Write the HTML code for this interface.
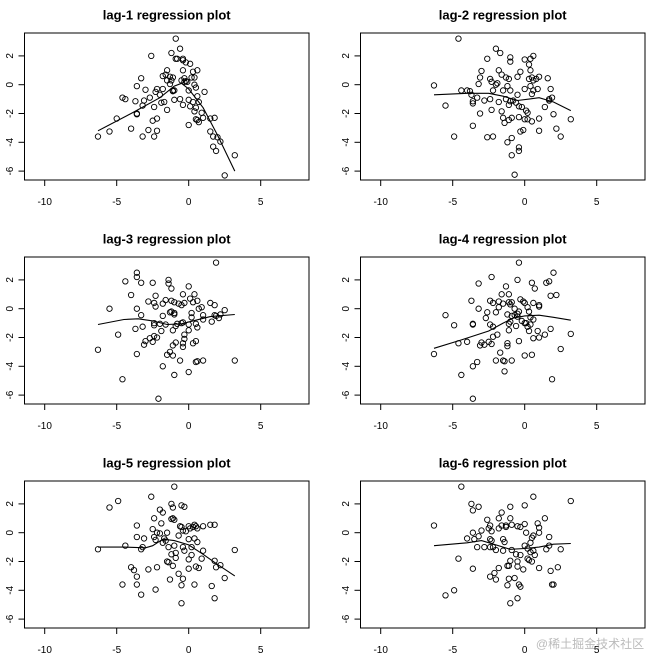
<!DOCTYPE html>
<html><head><meta charset="utf-8">
<style>
html,body{margin:0;padding:0;background:#fff;}
svg{display:block;font-family:"Liberation Sans",Arial,sans-serif;}
</style></head>
<body>
<svg id="chart" width="653" height="657" viewBox="0 0 653 657" xmlns="http://www.w3.org/2000/svg">
<text x="590" y="648" font-family="'Liberation Sans','Noto Sans CJK SC',sans-serif" font-size="12" fill="#bbb" text-anchor="middle">@稀土掘金技术社区</text>
</svg>
<script>
const panelTitles = ["lag-1 regression plot","lag-2 regression plot","lag-3 regression plot","lag-4 regression plot","lag-5 regression plot","lag-6 regression plot"];
const xTicks = [-10,-5,0,5];
const yTicks = [-6,-4,-2,0,2];
const lag1Points = [[-6.3,-3.6],[-5.5,-3.25],[-5,-2.35],[-4.6,-0.9],[-4.4,-1],[-4,-3.05],[-3.7,-1.15],[-3.6,-0.1],[-3.6,-2],[-3.6,-2.05],[-3.3,0.45],[-3.2,-1.45],[-3.2,-3.6],[-3.1,-1.1],[-3,-0.35],[-2.8,-3.15],[-2.7,-0.9],[-2.6,2],[-2.5,-2.5],[-2.4,-1.55],[-2.4,-3.6],[-2.3,-0.5],[-2.2,-0.3],[-2.2,-2.35],[-2.2,-3.2],[-2,-0.7],[-1.9,-1.25],[-1.8,-0.3],[-1.8,0.6],[-1.7,-1.2],[-1.6,0.7],[-1.5,0.3],[-1.5,-1.75],[-1.5,1],[-1.3,0.55],[-1.3,0.05],[-1.2,0.3],[-1.2,2.2],[-1.1,-0.4],[-1.1,-0.45],[-1.1,0.5],[-1,-1.05],[-1,-0.4],[-0.9,1.8],[-0.9,3.2],[-0.8,1.8],[-0.6,2.5],[-0.6,-1],[-0.5,0.3],[-0.4,1.8],[-0.4,1.7],[-0.4,-1.4],[-0.4,1],[-0.3,0.45],[-0.3,0.2],[-0.2,1.55],[-0.2,0.25],[-0.1,0.2],[0,-2.8],[0,-1.05],[0,-0.4],[0.1,1.45],[0.1,-1.5],[0.2,0.5],[0.3,0.9],[0.3,-1.2],[0.4,0.5],[0.4,0],[0.4,-1.85],[0.5,-0.2],[0.5,-1.6],[0.5,-2.4],[0.6,-2.45],[0.6,1],[0.6,-0.8],[0.7,-2.6],[0.7,-1.2],[0.9,-1.95],[1,-2.3],[1.1,-0.5],[1.5,-2.35],[1.5,-3.25],[1.7,-3.6],[1.7,-4.3],[1.8,-2.3],[1.9,-4.6],[2,-3.65],[2.2,-3.95],[2.5,-6.3],[3.2,-4.9]];
const lag1Line = [[-6.3,-3.2],[-4,-2],[-2,-0.9],[-1,-0.1],[-0.5,0.1],[0,-0.3],[1,-1.6],[2,-3.5],[3.2,-6]];
const lag2Points = [[-6.3,-0.05],[-5.5,-1.45],[-4.9,-3.6],[-4.6,3.2],[-4.4,-0.4],[-4,-0.4],[-3.8,-0.45],[-3.7,-0.7],[-3.6,-1.15],[-3.6,-1.3],[-3.6,-2.85],[-3.3,-0.9],[-3.2,0.05],[-3.1,-2],[-3.1,0.5],[-3,0.95],[-2.8,-1.1],[-2.6,-3.65],[-2.6,1.8],[-2.4,-1.0],[-2.4,0.4],[-2.3,0.2],[-2.3,-1.75],[-2.2,-3.6],[-2.2,-0.4],[-2,2.5],[-2,0],[-1.9,0.1],[-1.8,1],[-1.7,2.2],[-1.8,-1.2],[-1.6,0.7],[-1.6,-1.85],[-1.5,-2.3],[-1.5,-0.4],[-1.4,-2.65],[-1.3,0.5],[-1.3,-1.0],[-1.2,-0.1],[-1.2,-4],[-1.1,-1.4],[-1.1,0.4],[-1.1,-2.45],[-1,1.9],[-1,1.6],[-1,-0.4],[-1,-1.15],[-0.9,-2.3],[-0.9,-3.7],[-0.9,-4.9],[-0.8,-1.1],[-0.7,-6.25],[-0.6,-1.25],[-0.5,-0.7],[-0.5,0.55],[-0.4,-4.35],[-0.4,-4.6],[-0.4,-2.25],[-0.4,-1.5],[-0.3,0.9],[-0.3,-3.25],[-0.2,-1.55],[-0.1,-3.15],[0,-2.4],[0,1.75],[0,-0.3],[0.1,-1.8],[0.2,-2.4],[0.2,-1.95],[0.3,0.4],[0.3,1.4],[0.4,1],[0.4,1.8],[0.4,-0.1],[0.5,0.5],[0.5,-0.65],[0.5,-2.55],[0.6,-0.4],[0.6,0.3],[0.6,2],[0.8,0.4],[0.9,-0.3],[1,-2.35],[1,-3.2],[1,0.55],[1.4,-1.55],[1.6,0.45],[1.7,-1.1],[1.7,-1],[1.8,-0.3],[1.9,-0.9],[2,-2.05],[2.2,-3.05],[2.5,-3.6],[3.2,-2.4]];
const lag2Line = [[-6.3,-0.7],[-4,-0.6],[-2.5,-0.6],[-1.5,-0.8],[-0.5,-1.1],[0.3,-1.0],[1,-0.9],[2,-1.2],[3.2,-1.8]];
const lag3Points = [[-6.3,-2.85],[-5.5,0],[-4.9,-1.8],[-4.6,-4.9],[-4.4,1.9],[-4,0.95],[-3.7,-1.4],[-3.6,2.5],[-3.6,2.2],[-3.6,0],[-3.6,-3.15],[-3.3,1.8],[-3.3,-0.45],[-3.2,-1.25],[-3.1,-2.5],[-3,-2.25],[-2.8,0.5],[-2.7,-2.05],[-2.5,1.8],[-2.5,-2.3],[-2.4,-1],[-2.4,-1.9],[-2.4,-1.15],[-2.4,0.4],[-2.3,0.9],[-2.3,0.15],[-2.2,-2],[-2.1,-6.25],[-2,-1.05],[-1.9,-1.55],[-1.8,-0.5],[-1.8,0.35],[-1.8,-4],[-1.6,0.6],[-1.6,-1.1],[-1.5,-3.2],[-1.4,2],[-1.4,1.75],[-1.3,-0.25],[-1.3,-3],[-1.2,1.4],[-1.2,-0.2],[-1.2,0.55],[-1.1,-1.5],[-1.1,-2.55],[-1.1,-3.25],[-1,-0.3],[-1,-0.4],[-1,0.45],[-1,-4.6],[-0.9,-1.2],[-0.9,-2.35],[-0.8,-1.05],[-0.7,0.35],[-0.6,-3.6],[-0.5,-1],[-0.5,0.25],[-0.4,-0.95],[-0.4,1],[-0.4,-2.65],[-0.4,-2.4],[-0.3,-2.1],[-0.3,-1.8],[-0.3,0.4],[0,1.55],[0,-1.5],[0,-1.1],[0,-4.4],[0.1,0.7],[0.2,-0.6],[0.2,-0.3],[0.3,0.45],[0.3,-2.4],[0.4,1],[0.5,-2.25],[0.5,-1.05],[0.5,-3.7],[0.6,-3.65],[0.6,-1.3],[0.6,0.55],[0.7,0],[0.9,0.1],[1,-0.45],[1,-0.75],[1,-3.6],[1.5,0.4],[1.6,-0.9],[1.8,0.25],[1.8,-0.45],[1.9,-0.5],[1.9,3.2],[2.1,-0.65],[2.2,-0.4],[2.5,-0.1],[3.2,-3.6]];
const lag3Line = [[-6.3,-1.1],[-4.5,-0.75],[-3.5,-0.7],[-2.5,-0.85],[-1.5,-1.1],[-0.5,-1.05],[0.5,-0.8],[1.5,-0.55],[3.2,-0.4]];
const lag4Points = [[-6.3,-3.15],[-5.5,-0.45],[-4.9,-1.15],[-4.6,-2.4],[-4.4,-4.6],[-4,-2.3],[-3.7,0.55],[-3.6,-1.1],[-3.6,-1.05],[-3.6,-4],[-3.6,-6.25],[-3.2,1.75],[-3.2,0],[-3.1,-2.55],[-3.3,-3.7],[-3,-2.35],[-2.8,-2.5],[-2.7,-0.65],[-2.6,-0.25],[-2.5,-2.3],[-2.4,-1.1],[-2.4,0.55],[-2.3,2.2],[-2.3,-2.45],[-2.2,-1.95],[-2.2,0.4],[-2.2,-1.25],[-2,-0.25],[-2,-3.6],[-1.9,-1.8],[-1.8,0.5],[-1.8,0.1],[-1.7,-3.05],[-1.6,1],[-1.5,0.35],[-1.5,-3.6],[-1.4,-3.65],[-1.4,-4.35],[-1.3,1.55],[-1.2,-0.4],[-1.2,-2.4],[-1.2,-2.6],[-1.1,1],[-1.1,0.45],[-1.1,-1.05],[-1.1,-1.5],[-1,0.3],[-1,-0.9],[-0.9,0.45],[-0.9,-0.5],[-0.9,-3.6],[-0.7,0],[-0.7,-0.45],[-0.6,-1.2],[-0.5,2],[-0.5,-0.35],[-0.5,-0.55],[-0.4,3.2],[-0.4,-0.2],[-0.4,-2.25],[-0.3,0.65],[-0.2,-0.85],[-0.1,0.5],[0,0.4],[0,-1],[0,-3.25],[0.1,-1],[0.2,0.1],[0.2,-1.25],[0.3,-0.2],[0.3,-1.55],[0.4,-0.6],[0.4,-1.1],[0.5,1.8],[0.5,-3.2],[0.6,-0.75],[0.6,0.4],[0.6,-2.05],[0.7,1.4],[0.9,-1.55],[1,0.15],[1,0.25],[1,-2],[1.4,-1.8],[1.5,1.8],[1.7,1.9],[1.8,0.9],[1.8,-1.4],[1.9,-4.9],[2,2.5],[2.2,0.95],[2.5,-2.8],[3.2,-1.75]];
const lag4Line = [[-6.3,-2.75],[-4.5,-2.2],[-2.5,-1.55],[-1.5,-1.0],[-0.8,-0.65],[0,-0.5],[1,-0.45],[2,-0.6],[3.2,-0.8]];
const lag5Points = [[-6.3,-1.15],[-5.5,1.75],[-4.9,2.2],[-4.6,-3.6],[-4.4,-0.9],[-4,-2.4],[-3.8,-2.6],[-3.6,0.5],[-3.6,-0.3],[-3.6,-3.05],[-3.6,-3.6],[-3.3,-4.3],[-3.3,-1.15],[-3.2,-1],[-3.1,-0.4],[-2.8,-2.55],[-2.6,2.5],[-2.5,0.25],[-2.4,-0.3],[-2.4,1],[-2.3,-3.95],[-2.3,-0.5],[-2.2,-2.4],[-2.2,0],[-2,-0.05],[-2,1.6],[-1.9,0.65],[-1.8,1.4],[-1.8,-0.7],[-1.7,-0.4],[-1.6,-0.55],[-1.5,0],[-1.5,-2],[-1.4,-1],[-1.4,-2.05],[-1.3,-3.25],[-1.2,2],[-1.2,-1.5],[-1.2,0.95],[-1.1,1.75],[-1.1,-2.3],[-1.1,1],[-1,-0.9],[-1,0.9],[-1,3.2],[-0.9,-1.4],[-0.9,-1.75],[-0.7,-0.2],[-0.7,-2.85],[-0.6,0.45],[-0.5,0.4],[-0.5,1.9],[-0.5,-3.65],[-0.5,-4.9],[-0.4,-1],[-0.4,-3.2],[-0.4,0.15],[-0.3,1.8],[-0.3,-1.25],[-0.2,0.1],[0,0.45],[0,-0.45],[0,-1.85],[0,-2.5],[0.1,0.3],[0.2,-1],[0.2,-1.55],[0.3,0.4],[0.4,0.55],[0.4,-0.4],[0.4,-3.6],[0.5,-2.35],[0.5,0.45],[0.6,0.3],[0.6,-0.65],[0.7,-2.45],[0.9,-1.8],[1,0.45],[1,-1.25],[1.5,0.55],[1.6,-3.7],[1.8,0.55],[1.8,-4.55],[1.8,-1.95],[1.9,-2.4],[2.2,-2.25],[2.5,-3.15],[3.2,-1.2]];
const lag5Line = [[-6.3,-1.0],[-4.5,-1.0],[-3,-1.05],[-2.5,-0.9],[-1.8,-0.45],[-1,-0.55],[0,-0.85],[1,-1.5],[2,-2.2],[3.2,-3]];
const lag6Points = [[-6.3,0.5],[-5.5,-4.35],[-4.9,-4],[-4.6,-1.8],[-4.4,3.2],[-4,-0.4],[-3.7,2],[-3.6,1.55],[-3.6,0],[-3.6,-2.5],[-3.5,-0.45],[-3.3,-1],[-3.2,-0.25],[-3.2,1.8],[-3,0.15],[-2.8,-1],[-2.6,0.9],[-2.5,0.3],[-2.4,-0.45],[-2.4,0.5],[-2.4,-1],[-2.4,-3.05],[-2.3,0.1],[-2.3,-0.55],[-2.2,-1.0],[-2.1,-2.8],[-2,-3.25],[-2,-1.2],[-1.8,0.3],[-1.8,1],[-1.8,-2.45],[-1.6,1.4],[-1.6,0.5],[-1.5,-0.45],[-1.5,-1.25],[-1.4,-0.65],[-1.3,0.5],[-1.3,0.4],[-1.2,-2.3],[-1.2,-3.65],[-1.1,-2.3],[-1.1,-3.2],[-1.0,1.8],[-1.0,1.0],[-1,-1.95],[-1,-4.9],[-0.9,0.55],[-0.9,-1.2],[-0.7,-3.15],[-0.6,-1.5],[-0.5,0.45],[-0.5,-2.0],[-0.5,-2.35],[-0.5,-4.55],[-0.4,-3.6],[-0.3,-3.75],[-0.3,0.4],[-0.3,-1.55],[-0.1,-2.55],[0,1.9],[0,0.6],[0,-0.9],[0.1,0],[0.2,-1.1],[0.2,-1.8],[0.3,-1.9],[0.4,-0.7],[0.4,-1.35],[0.5,-0.35],[0.5,-2],[0.6,2.5],[0.6,-0.2],[0.6,-1.25],[0.7,-1.55],[0.9,0.65],[1,0.35],[1,0],[1,-2.45],[1.4,1],[1.5,-1.15],[1.7,-0.3],[1.7,-0.9],[1.8,-2.65],[1.9,-3.6],[2,-3.6],[2.3,-2.4],[2.5,-1.15],[3.2,2.2]];
const lag6Line = [[-6.3,-0.9],[-4,-0.7],[-3,-0.55],[-2,-0.85],[-1,-1.15],[0,-1.1],[1,-1.0],[2,-0.8],[3.2,-0.75]];

const allPoints = [lag1Points,lag2Points,lag3Points,lag4Points,lag5Points,lag6Points];
const allLines = [lag1Line,lag2Line,lag3Line,lag4Line,lag5Line,lag6Line];

const NS = "http://www.w3.org/2000/svg";
const svg = document.getElementById('chart');
function mk(tag, attrs, parent){
  const e = document.createElementNS(NS, tag);
  for (const k in attrs) e.setAttribute(k, attrs[k]);
  parent.appendChild(e);
  return e;
}
const SCALE = 14.4;
for (let p = 0; p < 6; p++) {
  const ox = (p % 2) * 336, oy = Math.floor(p / 2) * 224;
  const xs = v => ox + 188.7 + SCALE * v;
  const ys = v => oy + 84.7 - SCALE * v;
  const g = mk('g', {}, svg);
  
  
  const t = mk('text', {x: ox + 166.7, y: oy + 19.5, 'text-anchor': 'middle', 'font-size': '13', 'font-weight': 'bold'}, g);
  t.textContent = panelTitles[p];
  
  
  const box = mk('rect', {x: ox + 24.5, y: oy + 33, width: 284.5, height: 147, fill: 'none', stroke: '#000', 'stroke-width': 1}, g);
  
  
  xTicks.forEach(v => {
    const X = xs(v);
    const tk = mk('line', {x1: X, x2: X, y1: oy + 180, y2: oy + 186, stroke: '#000'}, g);
    
    
    const lb = mk('text', {x: X, y: oy + 205, 'text-anchor': 'middle', 'font-size': '10'}, g);
    lb.textContent = v;
    
    
  });
  yTicks.forEach(v => {
    const Y = ys(v);
    const tk = mk('line', {x1: ox + 18.5, x2: ox + 24.5, y1: Y, y2: Y, stroke: '#000'}, g);
    
    
    const lb = mk('text', {x: 0, y: 0, 'text-anchor': 'middle', 'font-size': '10', transform: 'translate(' + (ox + 13) + ',' + Y + ') rotate(-90)'}, g);
    lb.textContent = v;
    
    
  });
  allPoints[p].forEach(pt => {
    const c = mk('circle', {cx: xs(pt[0]), cy: ys(pt[1]), r: 2.7, fill: 'none', stroke: '#000', 'stroke-width': 0.9}, g);
    
    
  });
  const d = allLines[p].map((q, i) => (i ? 'L' : 'M') + xs(q[0]).toFixed(1) + ',' + ys(q[1]).toFixed(1)).join(' ');
  const ln = mk('path', {d: d, fill: 'none', stroke: '#000', 'stroke-width': 1.1}, g);
  
  
}
</script>
</body></html>
